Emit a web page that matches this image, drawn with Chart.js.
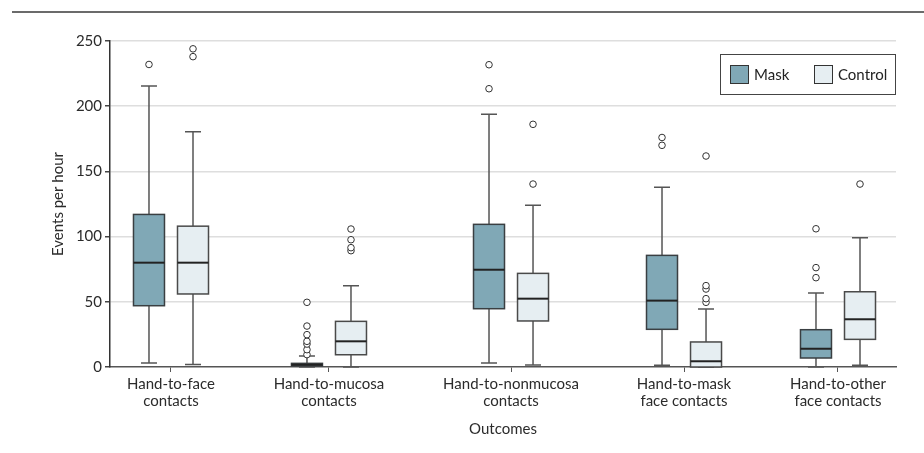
<!DOCTYPE html>
<html>
<head>
<meta charset="utf-8">
<script src="https://cdn.jsdelivr.net/npm/chart.js@4.4.1/dist/chart.umd.min.js"></script>
<style>
  body { margin: 0; background: #fff; }
  #wrap { position: relative; width: 924px; height: 453px; }
  #rule { position: absolute; left: 12px; right: 0; top: 11px; height: 2px; background: #6b6b6b; }
</style>
</head>
<body>
<div id="wrap">
  <div id="rule"></div>
  <canvas id="boxChart"></canvas>
</div>
<script>
  // categories and box statistics (events per hour)
  const categories = [
    ['Hand-to-face', 'contacts'],
    ['Hand-to-mucosa', 'contacts'],
    ['Hand-to-nonmucosa', 'contacts'],
    ['Hand-to-mask', 'face contacts'],
    ['Hand-to-other', 'face contacts']
  ];
  const groups = ['Mask', 'Control'];

  const maskMin = [3, 0, 3, 1.3, 0];
  const maskQ1 = [47, 0.8, 44.7, 28.9, 6.9];
  const maskMedian = [80, 1.7, 74.6, 50.9, 14];
  const maskQ3 = [117, 2.8, 109.4, 85.6, 28.6];
  const maskMax = [215.5, 8.4, 193.8, 137.8, 56.7];
  const maskOutliers = [
    [232],
    [9.5, 13.3, 17.6, 19.7, 24.8, 31.4, 49.6],
    [213.4, 231.8],
    [170, 176],
    [68.5, 76.2, 106]
  ];

  const controlMin = [2, 0, 1.5, 0, 1.3];
  const controlQ1 = [56, 9.4, 35.3, 0, 21.2];
  const controlMedian = [80, 19.7, 52.4, 4.4, 36.6];
  const controlQ3 = [108, 35, 71.8, 19.2, 57.7];
  const controlMax = [180.4, 62.4, 124, 44.5, 99.2];
  const controlOutliers = [
    [238, 244],
    [89.2, 91.5, 97.6, 105.8],
    [140.3, 186.1],
    [49.6, 52.4, 59.8, 62.4, 161.8],
    [140.3]
  ];

  const yTicks = [0, 50, 100, 150, 200, 250];

  // layout: where each outcome sits on the 0-100 x scale, and group offset
  const catPos = [7.76, 27.86, 51.02, 73.03, 92.62];
  const groupOffset = 2.8;
  const boxWidth = 31;
  const capWidth = 16;

  const FONT = 'Lato, "Liberation Sans", sans-serif';
  const maskFill = '#80a8b6';
  const controlFill = '#e6eef2';

  const series = [
    { off: -groupOffset, fill: maskFill, edge: '#3a3f42', min: maskMin, q1: maskQ1, med: maskMedian, q3: maskQ3, max: maskMax, out: maskOutliers },
    { off: groupOffset, fill: controlFill, edge: '#4a4a4a', min: controlMin, q1: controlQ1, med: controlMedian, q3: controlQ3, max: controlMax, out: controlOutliers }
  ];

  function outlierPoints(s) {
    const pts = [];
    s.out.forEach((list, i) => list.forEach(v => pts.push({ x: catPos[i] + s.off, y: v })));
    return pts;
  }

  // draws boxes + whiskers with the chart scales
  const boxPlugin = {
    id: 'boxes',
    beforeDatasetsDraw(chart) {
      const { ctx, scales: { x, y } } = chart;
      ctx.save();
      series.forEach(s => {
        catPos.forEach((c, i) => {
          const cx = x.getPixelForValue(c + s.off);
          const yMin = y.getPixelForValue(s.min[i]);
          const yQ1 = y.getPixelForValue(s.q1[i]);
          const yMed = y.getPixelForValue(s.med[i]);
          const yQ3 = y.getPixelForValue(s.q3[i]);
          const yMax = y.getPixelForValue(s.max[i]);
          // whiskers
          ctx.strokeStyle = '#555';
          ctx.lineWidth = 1.5;
          ctx.beginPath();
          ctx.moveTo(cx, yQ3); ctx.lineTo(cx, yMax);
          ctx.moveTo(cx - capWidth / 2, yMax); ctx.lineTo(cx + capWidth / 2, yMax);
          ctx.moveTo(cx, yQ1); ctx.lineTo(cx, yMin);
          ctx.moveTo(cx - capWidth / 2, yMin); ctx.lineTo(cx + capWidth / 2, yMin);
          ctx.stroke();
          // box
          ctx.fillStyle = s.fill;
          ctx.fillRect(cx - boxWidth / 2, yQ3, boxWidth, yQ1 - yQ3);
          ctx.strokeStyle = s.edge;
          ctx.lineWidth = 1.5;
          ctx.strokeRect(cx - boxWidth / 2, yQ3, boxWidth, yQ1 - yQ3);
          // median
          ctx.strokeStyle = '#222';
          ctx.lineWidth = 2;
          ctx.beginPath();
          ctx.moveTo(cx - boxWidth / 2, yMed); ctx.lineTo(cx + boxWidth / 2, yMed);
          ctx.stroke();
        });
      });
      ctx.restore();
    },
    afterDraw(chart) {
      // legend box in the top right of the plot
      const { ctx, chartArea } = chart;
      const right = chartArea.right, top = chartArea.top + 13;
      const left = right - 176, h = 40;
      ctx.save();
      ctx.strokeStyle = '#444';
      ctx.lineWidth = 1;
      ctx.fillStyle = '#fff';
      ctx.fillRect(left, top, 176, h);
      ctx.strokeRect(left + 0.5, top + 0.5, 175, h);
      ctx.font = '15px ' + FONT;
      ctx.textBaseline = 'middle';
      const items = [{ x: left + 10, fill: maskFill, text: groups[0] }, { x: left + 94, fill: controlFill, text: groups[1] }];
      items.forEach(it => {
        ctx.fillStyle = it.fill;
        ctx.fillRect(it.x, top + 11, 19, 19);
        ctx.strokeStyle = '#333';
        ctx.strokeRect(it.x + 0.5, top + 11.5, 18, 18);
        ctx.fillStyle = '#222';
        ctx.fillText(it.text, it.x + 24, top + 21);
      });
      ctx.restore();
    }
  };

  new Chart(document.getElementById('boxChart'), {
    type: 'scatter',
    data: {
      datasets: series.map((s, k) => ({
        label: groups[k] + ' outliers',
        data: outlierPoints(s),
        pointRadius: 3.3,
        pointHoverRadius: 3.3,
        pointBackgroundColor: '#fff',
        pointBorderColor: '#333',
        pointBorderWidth: 1
      }))
    },
    options: {
      responsive: true,
      maintainAspectRatio: false,
      animation: false,
      layout: { padding: { left: 0, right: 28, top: 41, bottom: 0 } },
      plugins: { legend: { display: false }, tooltip: { enabled: false } },
      scales: {
        x: {
          type: 'linear',
          min: 0,
          max: 100,
          afterBuildTicks: scale => { scale.ticks = catPos.map(v => ({ value: v })); },
          afterFit: scale => { scale.height = 86; },
          ticks: {
            autoSkip: false,
            maxRotation: 0,
            padding: 3,
            color: '#2b2b2b',
            font: { family: FONT, size: 15, lineHeight: 1.18 },
            callback: (v, i) => categories[i]
          },
          grid: { drawOnChartArea: false, drawTicks: true, tickLength: 5, tickColor: '#555' },
          border: { color: '#555', width: 1.5 },
          title: { display: true, text: 'Outcomes', color: '#2b2b2b', font: { family: FONT, size: 15 }, padding: { top: 0, bottom: 15 } }
        },
        y: {
          min: 0,
          max: 250,
          afterBuildTicks: scale => { scale.ticks = yTicks.map(v => ({ value: v })); },
          afterFit: scale => { scale.width = 110; },
          ticks: { padding: 3, color: '#2b2b2b', font: { family: FONT, size: 15 } },
          grid: {
            color: c => (c.tick && c.tick.value === 0 ? 'rgba(0,0,0,0)' : '#dedede'),
            lineWidth: 1.5,
            tickColor: '#444',
            tickLength: 5
          },
          border: { color: '#333', width: 1.5 },
          title: { display: true, text: 'Events per hour', color: '#2b2b2b', font: { family: FONT, size: 15 }, padding: { top: 49, bottom: 0 } }
        }
      }
    },
    plugins: [boxPlugin]
  });
</script>
</body>
</html>
